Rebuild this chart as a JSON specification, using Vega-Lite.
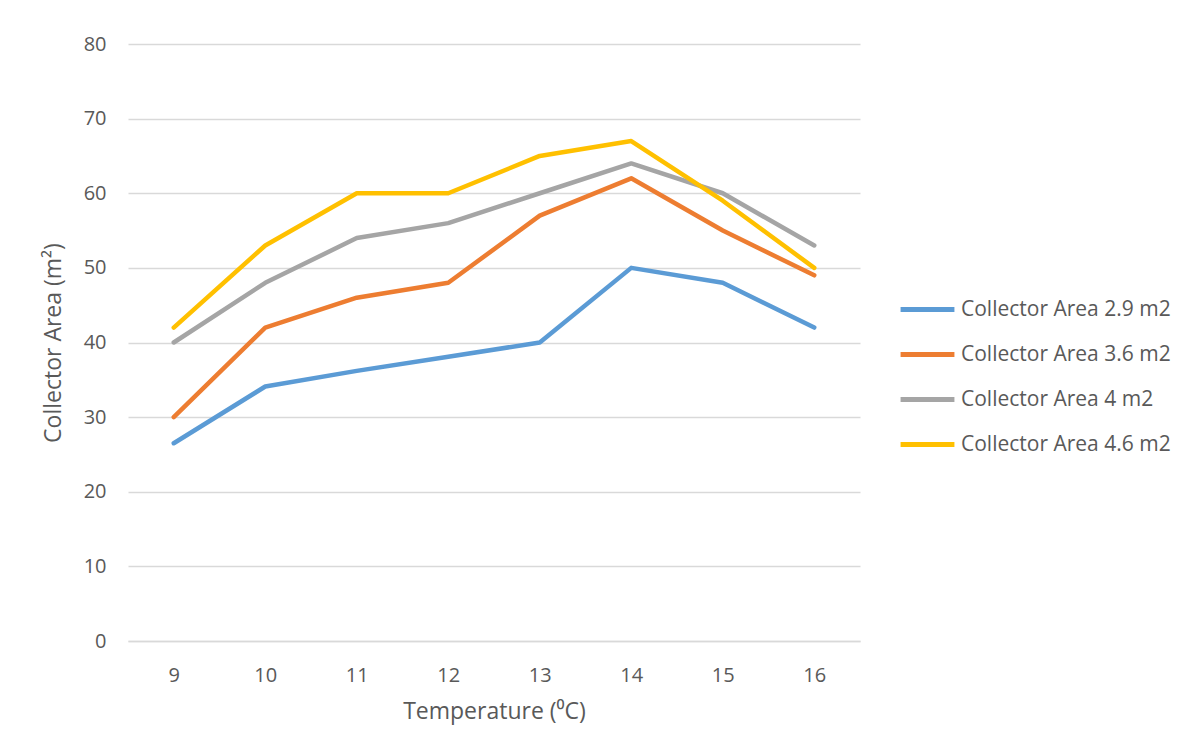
{
  "$schema": "https://vega.github.io/schema/vega-lite/v6.json",
  "autosize": {"type": "none"},
  "padding": {"left": 128, "top": 44, "right": 340, "bottom": 107},
  "width": 732,
  "height": 597,
  "background": "white",
  "config": {
    "view": {"stroke": null},
    "font": "Open Sans",
    "axis": {"labelColor": "#595959", "titleColor": "#595959", "labelFont": "Open Sans", "titleFont": "Open Sans", "titleFontWeight": "normal", "labelFontSize": 20, "titleFontSize": 23}
  },
  "data": {
    "values": [
      {"t": 9, "series": "Collector Area 2.9 m2", "v": 26.5},
      {"t": 10, "series": "Collector Area 2.9 m2", "v": 34.1},
      {"t": 11, "series": "Collector Area 2.9 m2", "v": 36.2},
      {"t": 12, "series": "Collector Area 2.9 m2", "v": 38.1},
      {"t": 13, "series": "Collector Area 2.9 m2", "v": 40},
      {"t": 14, "series": "Collector Area 2.9 m2", "v": 50},
      {"t": 15, "series": "Collector Area 2.9 m2", "v": 48},
      {"t": 16, "series": "Collector Area 2.9 m2", "v": 42},
      {"t": 9, "series": "Collector Area 3.6 m2", "v": 30},
      {"t": 10, "series": "Collector Area 3.6 m2", "v": 42},
      {"t": 11, "series": "Collector Area 3.6 m2", "v": 46},
      {"t": 12, "series": "Collector Area 3.6 m2", "v": 48},
      {"t": 13, "series": "Collector Area 3.6 m2", "v": 57},
      {"t": 14, "series": "Collector Area 3.6 m2", "v": 62},
      {"t": 15, "series": "Collector Area 3.6 m2", "v": 55},
      {"t": 16, "series": "Collector Area 3.6 m2", "v": 49},
      {"t": 9, "series": "Collector Area 4 m2", "v": 40},
      {"t": 10, "series": "Collector Area 4 m2", "v": 48},
      {"t": 11, "series": "Collector Area 4 m2", "v": 54},
      {"t": 12, "series": "Collector Area 4 m2", "v": 56},
      {"t": 13, "series": "Collector Area 4 m2", "v": 60},
      {"t": 14, "series": "Collector Area 4 m2", "v": 64},
      {"t": 15, "series": "Collector Area 4 m2", "v": 60},
      {"t": 16, "series": "Collector Area 4 m2", "v": 53},
      {"t": 9, "series": "Collector Area 4.6 m2", "v": 42},
      {"t": 10, "series": "Collector Area 4.6 m2", "v": 53},
      {"t": 11, "series": "Collector Area 4.6 m2", "v": 60},
      {"t": 12, "series": "Collector Area 4.6 m2", "v": 60},
      {"t": 13, "series": "Collector Area 4.6 m2", "v": 65},
      {"t": 14, "series": "Collector Area 4.6 m2", "v": 67},
      {"t": 15, "series": "Collector Area 4.6 m2", "v": 59},
      {"t": 16, "series": "Collector Area 4.6 m2", "v": 50}
    ]
  },
  "mark": {"type": "line", "strokeWidth": 4.5, "strokeCap": "round", "strokeJoin": "round"},
  "encoding": {
    "x": {
      "field": "t", "type": "ordinal",
      "scale": {"type": "point", "padding": 0.5},
      "axis": {
        "title": "Temperature (⁰C)", "titleFontSize": 23, "titlePadding": 15,
        "labelAngle": 0, "labelFontSize": 20, "labelPadding": 24,
        "ticks": false, "domain": true, "domainColor": "#d9d9d9", "domainWidth": 1.5, "grid": false
      }
    },
    "y": {
      "field": "v", "type": "quantitative",
      "scale": {"domain": [0, 80], "nice": false},
      "axis": {
        "title": "Collector Area (m²)", "titleFontSize": 23, "titlePadding": 18,
        "values": [0, 10, 20, 30, 40, 50, 60, 70, 80],
        "labelFontSize": 20, "labelPadding": 22,
        "ticks": false, "domain": false,
        "grid": true, "gridColor": "#d9d9d9", "gridWidth": 1.5
      }
    },
    "color": {
      "field": "series", "type": "nominal",
      "scale": {
        "domain": ["Collector Area 2.9 m2", "Collector Area 3.6 m2", "Collector Area 4 m2", "Collector Area 4.6 m2"],
        "range": ["#5b9bd5", "#ed7d31", "#a5a5a5", "#ffc000"]
      },
      "legend": {
        "title": null, "orient": "none", "legendX": 770, "legendY": 236,
        "symbolType": "stroke", "symbolStrokeWidth": 5, "symbolSize": 2900,
        "labelFontSize": 21, "labelColor": "#595959", "labelFont": "Open Sans",
        "rowPadding": 5, "labelLimit": 400, "labelOffset": 4
      }
    }
  }
}
